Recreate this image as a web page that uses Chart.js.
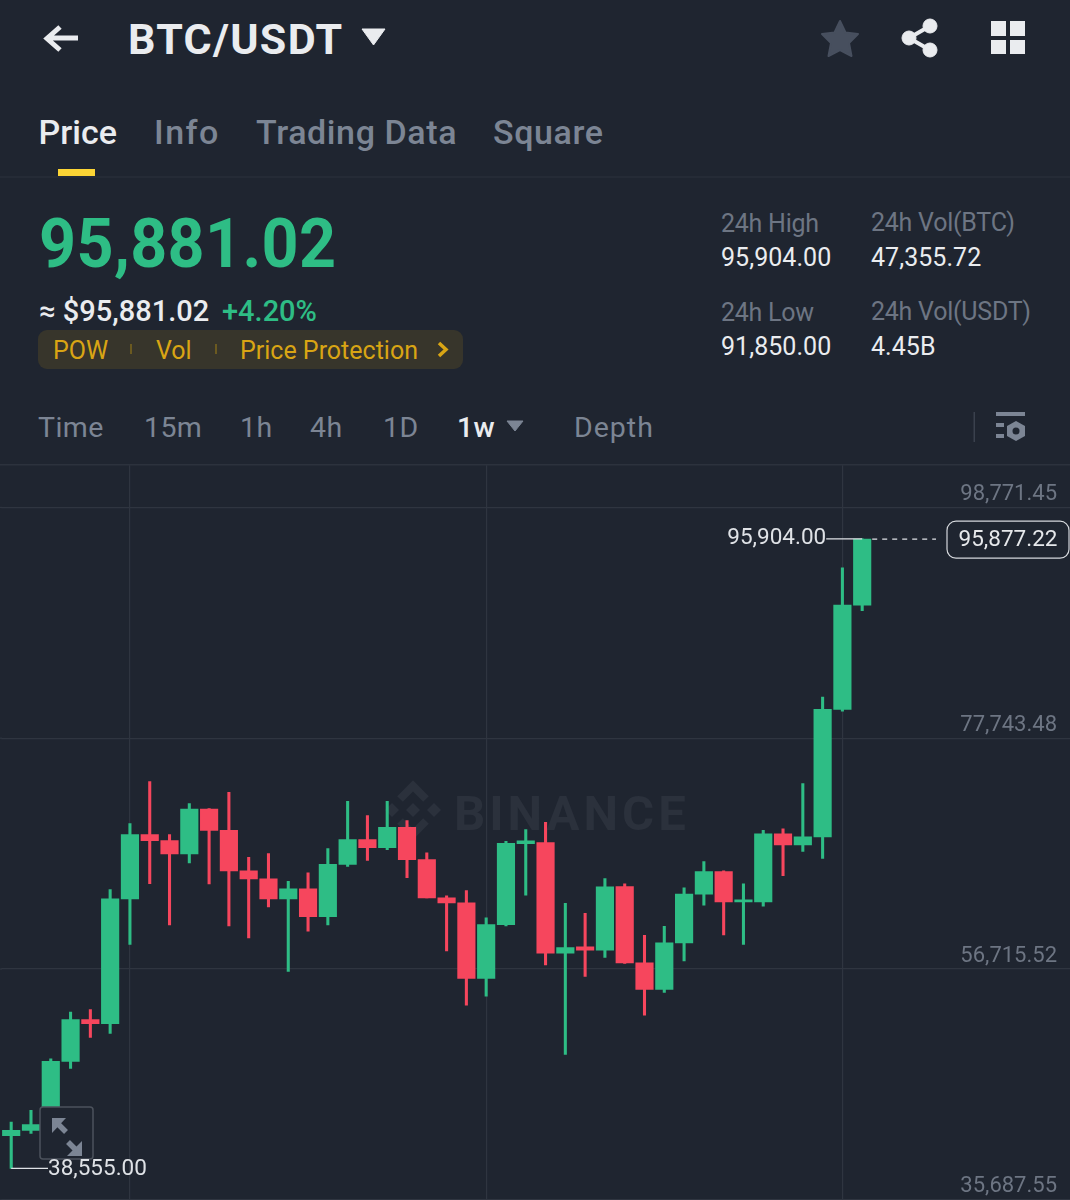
<!DOCTYPE html>
<html><head><meta charset="utf-8">
<script src="https://cdn.jsdelivr.net/npm/chart.js@4"></script>
<style>
html,body{margin:0;padding:0;width:1070px;height:1200px;overflow:hidden;background:#1f2530;font-family:Roboto,sans-serif;}
.t{position:absolute;white-space:nowrap;line-height:1;transform:translateY(-50%);}
.dim{color:#7c8594}.lt{color:#eaecef}.gr{color:#2ebd85}
.s{color:#6d7583;font-size:25px;letter-spacing:-.25px}
.v{color:#eaecef;font-size:25px;letter-spacing:.05px}
.iv{font-size:28.500px;color:#7c8594;letter-spacing:.4px}
.tab{font-size:34px;font-weight:500;color:#7c8594;letter-spacing:.6px}
.pl{font-size:25px;color:#d9a514}
svg{position:absolute;overflow:visible}
#wrap{position:absolute;left:0;top:465px;width:1070px;height:735px}
</style></head><body>
<svg style="left:0;top:0" width="1070" height="480">
<path d="M78 38H49M60 27L47 38.500L60 50" fill="none" stroke="#eaecef" stroke-width="5"/>
<path d="M362 29H385L373.500 45Z" fill="#eaecef" stroke="#eaecef" stroke-width="1" stroke-linejoin="round"/>
<path d="M840 21L845.500 32.500L858 34L849 43L851.500 56L840 50L828.500 56L831 43L822 34L834.500 32.500Z" fill="#474f5e" stroke="#474f5e" stroke-width="2" stroke-linejoin="round"/>
<g fill="#eaecef" stroke="#eaecef"><circle cx="909" cy="38" r="7"/><circle cx="930" cy="26" r="7"/><circle cx="930" cy="50" r="7"/><path d="M909 38L930 26M909 38L930 50" stroke-width="4" fill="none"/></g>
<g fill="#eaecef"><rect x="991" y="21" width="15" height="15"/><rect x="1010" y="21" width="15" height="15"/><rect x="991" y="40" width="15" height="14"/><rect x="1010" y="40" width="15" height="14"/></g>
<rect x="58" y="169" width="37" height="7" fill="#fcd535"/>
<rect x="0" y="176.500" width="1070" height="1" fill="#2c323d"/>
<path d="M507 421H523L515 431Z" fill="#7c8594" stroke="#7c8594" stroke-linejoin="round"/>
<rect x="973.500" y="412" width="1.500" height="30" fill="#3a414d"/>
<g fill="#7c8594"><rect x="996" y="412" width="29" height="4"/><rect x="996" y="423" width="8" height="4"/><rect x="996" y="434" width="8" height="4"/><path d="M1016 421L1025 426V436L1016 441L1007 436V426Z"/></g>
<circle cx="1016" cy="431" r="3.500" fill="#1f2530"/>
<rect x="0" y="464" width="1070" height="1.500" fill="#2c323d"/>
<rect x="38" y="330" width="425" height="39" rx="9" fill="#37352b"/>
<rect x="130" y="344" width="2" height="10" fill="#6b5a20"/><rect x="215" y="344" width="2" height="10" fill="#6b5a20"/>
<path d="M439 343L446 349.500L439 356" fill="none" stroke="#d9a514" stroke-width="3.500"/>
</svg>
<div class="t lt" style="left:128px;top:39px;font-size:43px;font-weight:700;letter-spacing:1.300px">BTC/USDT</div>
<div class="t tab" style="left:38.500px;top:132px;color:#eaecef;letter-spacing:0">Price</div>
<div class="t tab" style="left:154px;top:132px;letter-spacing:1.500px">Info</div>
<div class="t tab" style="left:256px;top:132px">Trading Data</div>
<div class="t tab" style="left:493px;top:132px">Square</div>
<div class="t gr" style="left:39px;top:244px;font-size:68px;font-weight:700;letter-spacing:.4px;transform:translateY(-50%) scaleX(.95);transform-origin:left center">95,881.02</div>
<div class="t lt" style="left:39px;top:311px;font-size:29px;font-weight:500">≈ $95,881.02</div>
<div class="t gr" style="left:222px;top:311px;font-size:29px;font-weight:500">+4.20%</div>
<div class="t pl" style="left:53px;top:350px">POW</div>
<div class="t pl" style="left:156px;top:350px">Vol</div>
<div class="t pl" style="left:240px;top:350px">Price Protection</div>
<div class="t s" style="left:721px;top:223px">24h High</div>
<div class="t v" style="left:721px;top:257px">95,904.00</div>
<div class="t s" style="left:871px;top:222px">24h Vol(BTC)</div>
<div class="t v" style="left:871px;top:257px">47,355.72</div>
<div class="t s" style="left:721px;top:312px">24h Low</div>
<div class="t v" style="left:721px;top:346px">91,850.00</div>
<div class="t s" style="left:871px;top:311px">24h Vol(USDT)</div>
<div class="t v" style="left:871px;top:346px">4.45B</div>
<div class="t iv" style="left:38px;top:428px">Time</div>
<div class="t iv" style="left:144px;top:428px">15m</div>
<div class="t iv" style="left:240px;top:428px">1h</div>
<div class="t iv" style="left:310px;top:428px">4h</div>
<div class="t iv" style="left:383px;top:428px">1D</div>
<div class="t iv" style="left:457px;top:428px;color:#eaecef;font-weight:500">1w</div>
<div class="t iv" style="left:574px;top:428px;letter-spacing:1px">Depth</div>
<div id="wrap"><canvas id="c" width="1070" height="735"></canvas></div>
<script>
const categories = Array.from({length:54},(_,i)=>'W'+(i+1));
const opens  = [41532,42014,42533,48295,52118,51727,63106,68959,68413,67202,71298,69350,65655,64926,63106,64016,61494,66255,68504,67776,69624,66683,63197,62742,55851,60766,68140,68231,58154,58736,58426,64225,57280,54849,59100,63543,65591,62832,62832,69023,68021,68749,80365,89869];
const closes = [42014,42533,48295,52118,51727,63106,68959,68413,67202,71298,69350,65655,64926,63106,64016,61494,66255,68504,67776,69624,66683,63197,62742,55851,60766,68167,68386,58154,58673,58426,64198,57280,54849,59100,63543,65591,62832,63015,69023,68021,68749,80365,89869,95877.22];
const highs  = [42770,43835,48541,52783,53029,63952,69960,73784,68959,71781,71340,72810,66892,67229,64708,65472,67685,71990,70689,71990,70233,67292,63379,63861,61376,68349,69414,70079,62705,61795,64954,64471,59792,60612,64107,66501,65650,64471,69350,69478,73601,81494,93264,95904];
const lows   = [38555,41741,42378,47658,50480,50844,58946,64498,60739,66383,64471,60648,59555,62377,56488,60157,60739,66073,66621,67593,65045,63197,58372,53421,54239,60648,63434,57098,48932,56033,57762,57216,52509,54576,57462,62523,59829,58946,62432,65227,67439,66801,80219,89377];
const priceTicks = [35687.55,56715.52,77743.48,98771.45];
const gridIndexes = [6,24,42];
const highLabel = '95,904.00', lowLabel = '38,555.00', lastLabel = '95,877.22';
const UP='#2ebd85', DOWN='#f6465d', GRID='#2f3540', BG='#1f2530';
const colorAt = i => closes[i] >= opens[i] ? UP : DOWN;

const overlay = {
  id:'overlay',
  beforeDatasetsDraw(ch){
    const c=ch.ctx; c.save();
    c.fillStyle=GRID;
    priceTicks.forEach(v=>c.fillRect(0,ch.scales.y.getPixelForValue(v)-.6,2,1.2));
    c.fillStyle='#2b313c';
    c.font='700 49px Roboto'; c.textAlign='left'; c.textBaseline='alphabetic';
    c.letterSpacing='4px';
    c.fillText('BINANCE',454,365);
    c.letterSpacing='0px';
    const o=[413,345];
    const d=(x,y,r)=>{c.beginPath();c.moveTo(x,y-r);c.lineTo(x+r,y);c.lineTo(x,y+r);c.lineTo(x-r,y);c.closePath();c.fill();};
    d(o[0],o[1],7);d(o[0]-21,o[1],7);d(o[0]+21,o[1],7);
    c.strokeStyle='#2b313c';c.lineWidth=8;
    c.beginPath();c.moveTo(o[0]-13,o[1]-11);c.lineTo(o[0],o[1]-24);c.lineTo(o[0]+13,o[1]-11);c.stroke();
    c.beginPath();c.moveTo(o[0]-13,o[1]+11);c.lineTo(o[0],o[1]+24);c.lineTo(o[0]+13,o[1]+11);c.stroke();
    c.restore();
  },
  afterDatasetsDraw(ch){
    const c=ch.ctx,x=ch.scales.x,y=ch.scales.y; c.save();
    const T=ch.canvas.getBoundingClientRect().top;
    c.fillStyle=BG;c.strokeStyle='#4c525c';c.lineWidth=1.5;
    c.beginPath();c.roundRect(40,1107-T,53,52,3);c.fill();c.stroke();
    c.fillStyle='#7c8594';c.strokeStyle='#7c8594';c.lineWidth=5.5;
    c.beginPath();c.moveTo(52,1118-T);c.lineTo(66,1118-T);c.lineTo(52,1133-T);c.closePath();c.fill();
    c.beginPath();c.moveTo(82,1156-T);c.lineTo(67,1156-T);c.lineTo(82,1141-T);c.closePath();c.fill();
    c.beginPath();c.moveTo(56,1122-T);c.lineTo(66,1132-T);c.stroke();
    c.beginPath();c.moveTo(68,1142-T);c.lineTo(78,1152-T);c.stroke();

    const hi=highs.length-1, hx=x.getPixelForValue(hi), hy=y.getPixelForValue(highs[hi]);
    c.strokeStyle='#dfe2e6';c.lineWidth=1.2;
    c.beginPath();c.moveTo(hx-36,hy);c.lineTo(hx,hy);c.stroke();
    c.fillStyle='#dfe2e6';c.font='22.500px Roboto';c.textAlign='right';c.textBaseline='middle';
    c.fillText(highLabel,hx-36,hy-1);
    const ly=y.getPixelForValue(closes[hi]);
    c.setLineDash([5,5]);c.beginPath();c.moveTo(hx+10,ly);c.lineTo(936,ly);c.stroke();c.setLineDash([]);
    c.fillStyle=BG;c.strokeStyle='#d5d8dc';c.lineWidth=1.2;
    c.beginPath();c.roundRect(947,ly-18,122,37,9);c.fill();c.stroke();
    c.fillStyle='#e6e8eb';c.textAlign='center';c.fillText(lastLabel,1008,ly+1);
    const lx=x.getPixelForValue(0), lo=y.getPixelForValue(lows[0]);
    c.strokeStyle=UP;c.lineWidth=2;c.beginPath();c.moveTo(lx,y.getPixelForValue(opens[0]));c.lineTo(lx,lo);c.stroke();
    c.strokeStyle='#dfe2e6';c.lineWidth=1.2;c.beginPath();c.moveTo(lx,lo);c.lineTo(48,lo);c.stroke();
    c.fillStyle='#dfe2e6';c.textAlign='left';c.fillText(lowLabel,48,lo+1);
    c.restore();
  }
};

new Chart(document.getElementById('c'),{
  type:'bar',
  data:{labels:categories,datasets:[
    {label:'Wick',data:lows.map((l,i)=>[l,highs[i]]),grouped:false,order:2,barThickness:2.4,
     backgroundColor:ctx=>colorAt(ctx.dataIndex),borderWidth:0,borderSkipped:false},
    {label:'Body',data:opens.map((o,i)=>[o,closes[i]]),grouped:false,order:1,barThickness:17.5,
     backgroundColor:ctx=>colorAt(ctx.dataIndex),borderWidth:0,borderSkipped:false}
  ]},
  plugins:[overlay],
  options:{
    responsive:false,animation:false,devicePixelRatio:1,
    layout:{autoPadding:false,padding:{left:1.3,right:0,top:0,bottom:0}},
    plugins:{legend:{display:false},tooltip:{enabled:false}},
    scales:{
      x:{type:'category',offset:true,border:{display:false},
         ticks:{display:false,autoSkip:false},
         grid:{offset:false,drawTicks:false,lineWidth:1.2,
               color:ctx=>gridIndexes.includes(ctx.index)?GRID:'rgba(0,0,0,0)'}},
      y:{type:'linear',position:'right',min:35687.55,max:102620,border:{display:false},
         afterBuildTicks(s){s.ticks=priceTicks.map(v=>({value:v}));},
         afterFit(s){s.width=0;},
         grid:{color:GRID,lineWidth:1.2,drawTicks:false},
         ticks:{mirror:true,padding:-13,labelOffset:-13,color:'#6d7583',font:{family:'Roboto',size:22},
                callback:v=>v.toLocaleString('en-US',{minimumFractionDigits:2,maximumFractionDigits:2})}}
    }
  }
});
</script>
</body></html>
